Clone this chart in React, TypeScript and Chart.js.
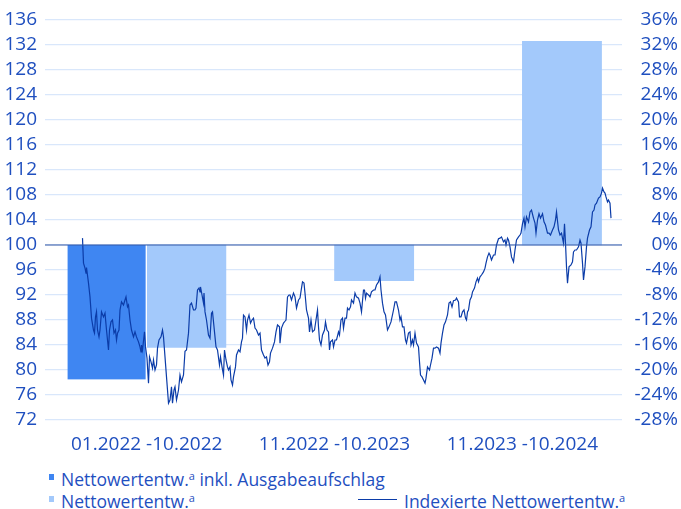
import React, { useEffect, useRef } from 'react';
import { Chart, registerables } from 'chart.js';

Chart.register(...registerables);

const categories = ['01.2022 -10.2022', '11.2022 -10.2023', '11.2023 -10.2024'];
const netInclFee: (number | null)[] = [-21.5, null, null];
const netPerf: number[] = [-16.4, -5.7, 32.6];
const leftTicks = { min: 72, max: 136, step: 4 };
const rightTicks = { min: -28, max: 36, step: 4 };

// [day since start, indexed value]
const indexPoints: [number, number][] = [
  [1, 101.1], [3, 97.1], [6, 96.3], [8, 95.5], [9, 96.4], [13, 93.9], [16, 91.7], [19, 88.3], [23, 86.4], [25, 85.9],
  [27, 88.5], [29, 89.3], [31, 86.4], [34, 85.3], [36, 86.4], [39, 89.3], [43, 88.5], [46, 89.1], [49, 86.4], [53, 83.2],
  [55, 86.4], [58, 87.7], [61, 88.0], [64, 85.9], [67, 86.4], [69, 84.8], [71, 85.9], [74, 86.4], [76, 89.6], [79, 90.9],
  [83, 90.4], [86, 91.2], [88, 91.7], [91, 90.1], [93, 90.4], [96, 88.0], [99, 86.4], [103, 85.3], [106, 86.1], [109, 85.3],
  [113, 84.5], [116, 83.7], [118, 82.9], [119, 84.0], [121, 83.2], [125, 86.1], [127, 83.7], [130, 81.9], [133, 77.9], [135, 82.1],
  [138, 81.3], [141, 80.3], [143, 81.6], [146, 80.0], [149, 80.8], [151, 83.5], [154, 84.8], [158, 85.3], [161, 86.4], [163, 85.3],
  [166, 82.1], [169, 78.9], [171, 76.8], [173, 74.7], [176, 75.2], [179, 77.3], [181, 74.7], [184, 76.8], [186, 77.3], [189, 75.2],
  [193, 76.8], [196, 79.2], [199, 78.1], [203, 79.2], [206, 83.0], [209, 83.2], [213, 85.9], [216, 90.4], [219, 90.7], [223, 89.6],
  [226, 89.6], [228, 89.9], [231, 92.8], [234, 93.1], [236, 92.5], [237, 93.3], [240, 92.0], [243, 90.7], [244, 92.3], [246, 89.3],
  [249, 88.0], [253, 85.6], [256, 85.1], [259, 89.1], [261, 89.3], [265, 86.1], [268, 83.7], [271, 83.2], [275, 80.8], [277, 82.1],
  [280, 80.5], [283, 79.2], [285, 83.2], [288, 81.6], [291, 80.5], [293, 80.0], [296, 80.5], [298, 78.4], [301, 77.6], [303, 78.9],
  [307, 80.5], [309, 82.4], [313, 83.2], [316, 82.9], [319, 84.5], [321, 85.1], [323, 88.8], [326, 88.5], [329, 86.4], [331, 88.0],
  [334, 88.8], [337, 87.5], [340, 88.0], [343, 88.3], [346, 86.7], [349, 86.4], [353, 85.6], [356, 85.9], [359, 83.2], [363, 82.4],
  [366, 81.9], [369, 82.1], [372, 80.8], [375, 81.3], [377, 82.7], [381, 83.5], [385, 84.5], [388, 86.1], [391, 87.2], [395, 86.9],
  [396, 84.3], [399, 86.7], [403, 87.5], [406, 87.8], [408, 88.0], [411, 91.7], [414, 92.0], [416, 92.0], [419, 91.2], [423, 92.3],
  [426, 91.7], [429, 89.9], [433, 91.2], [436, 91.5], [439, 93.1], [441, 94.1], [444, 93.9], [446, 92.3], [449, 89.6], [453, 88.3],
  [455, 86.1], [458, 88.0], [461, 86.1], [465, 86.4], [468, 88.0], [471, 89.6], [473, 86.9], [475, 84.8], [478, 84.0], [481, 85.6],
  [485, 86.4], [487, 87.7], [490, 86.4], [493, 86.1], [495, 83.2], [497, 84.5], [501, 84.8], [503, 83.7], [506, 84.8], [509, 84.8],
  [513, 86.1], [515, 85.6], [518, 88.0], [521, 88.3], [523, 86.7], [526, 88.3], [529, 88.3], [531, 89.9], [534, 89.6], [537, 90.1],
  [539, 91.2], [543, 90.7], [546, 92.3], [549, 91.7], [553, 91.5], [556, 90.7], [559, 89.3], [563, 92.8], [565, 92.8], [567, 91.5],
  [569, 92.3], [573, 92.0], [576, 91.7], [579, 92.5], [583, 92.8], [586, 92.8], [589, 93.6], [593, 94.1], [596, 94.9], [598, 92.8],
  [601, 90.7], [604, 89.3], [607, 88.8], [611, 86.4], [614, 86.9], [618, 87.7], [623, 89.6], [626, 90.9], [629, 90.9], [633, 89.6],
  [636, 88.0], [638, 88.5], [641, 86.9], [644, 86.9], [647, 84.8], [649, 84.3], [653, 85.9], [656, 86.1], [658, 84.0], [661, 84.8],
  [663, 84.0], [666, 85.9], [669, 84.3], [673, 83.7], [675, 81.3], [677, 79.2], [680, 78.9], [683, 78.4], [686, 77.9], [688, 78.7],
  [691, 80.5], [695, 80.0], [697, 80.8], [700, 81.9], [703, 83.5], [706, 83.5], [709, 83.7], [713, 83.5], [716, 82.7], [718, 84.3],
  [721, 85.9], [724, 87.2], [727, 87.7], [731, 88.8], [734, 90.7], [737, 90.9], [740, 90.1], [743, 91.1], [747, 91.2], [749, 91.5],
  [753, 90.9], [755, 88.5], [758, 88.5], [761, 89.3], [764, 89.6], [767, 88.3], [769, 88.0], [771, 89.3], [773, 89.6], [776, 91.2],
  [779, 91.7], [781, 92.5], [783, 92.8], [785, 93.1], [788, 94.1], [791, 94.7], [793, 94.1], [796, 94.9], [799, 95.2], [803, 95.7],
  [806, 96.3], [808, 97.1], [811, 98.1], [814, 98.7], [816, 98.4], [819, 97.6], [823, 98.4], [826, 98.4], [829, 100.0], [833, 101.0],
  [836, 101.1], [839, 101.3], [843, 100.5], [846, 100.8], [848, 100.0], [851, 101.1], [853, 100.8], [856, 99.7], [859, 98.1], [863, 97.3],
  [866, 99.2], [869, 100.8], [873, 101.3], [876, 101.6], [878, 101.9], [881, 103.4], [884, 104.3], [886, 102.9], [889, 104.5], [893, 103.7],
  [896, 105.3], [899, 105.6], [903, 104.3], [906, 103.5], [908, 101.9], [911, 104.0], [914, 105.0], [917, 104.3], [921, 105.0], [924, 103.7],
  [927, 103.2], [931, 101.9], [934, 101.9], [937, 101.6], [941, 102.4], [944, 102.9], [947, 104.0], [949, 105.3], [953, 102.4], [956, 101.6],
  [959, 101.9], [963, 100.3], [965, 103.4], [967, 100.3], [969, 96.5], [971, 93.9], [974, 96.5], [978, 96.8], [981, 97.3], [983, 98.9],
  [986, 99.2], [989, 99.2], [993, 99.7], [996, 100.8], [998, 100.3], [1001, 97.1], [1003, 94.4], [1006, 96.5], [1009, 99.7], [1011, 101.1],
  [1015, 102.4], [1018, 102.9], [1021, 105.3], [1024, 105.6], [1026, 106.4], [1029, 106.7], [1033, 107.5], [1036, 107.7], [1039, 108.3], [1041, 109.1],
  [1044, 108.5], [1046, 108.3], [1048, 107.7], [1051, 106.9], [1053, 107.2], [1056, 106.7], [1058, 104.3],
];
const dayRange = { min: -74, max: 1080 };

const TEXT = '#1f4fbf';
const DARK_BAR = '#3f86f2';
const LIGHT_BAR = '#a3c9fb';
const LINE = '#0b3ca8';
const GRID = '#d9e7fb';
const ZERO = '#3558a6';
const FONT = "'Open Sans', 'Noto Sans', sans-serif";

const zeroLine = {
  id: 'zeroLine',
  afterDatasetsDraw(chart: any) {
    const { ctx, chartArea, scales } = chart;
    const y = scales.yLeft.getPixelForValue(100);
    ctx.save();
    ctx.strokeStyle = ZERO;
    ctx.lineWidth = 1.2;
    ctx.beginPath();
    ctx.moveTo(chartArea.left, y);
    ctx.lineTo(chartArea.right, y);
    ctx.stroke();
    ctx.restore();
  },
};

function ChartCanvas() {
  const ref = useRef<HTMLCanvasElement>(null);
  useEffect(() => {
    if (!ref.current) return;
    const chart = new Chart(ref.current, {
      type: 'bar',
      data: {
        labels: categories,
        datasets: [
          {
            type: 'line',
            label: 'Indexierte Nettowertentw.',
            data: indexPoints.map(([d, v]) => ({ x: d, y: v })),
            xAxisID: 'xLine',
            yAxisID: 'yLeft',
            borderColor: LINE,
            borderWidth: 1.2,
            pointRadius: 0,
            tension: 0,
            order: 0,
          } as any,
          {
            type: 'bar',
            label: 'Nettowertentw. inkl. Ausgabeaufschlag',
            data: netInclFee,
            xAxisID: 'x',
            yAxisID: 'yRight',
            backgroundColor: DARK_BAR,
            borderColor: '#ffffff',
            borderWidth: { top: 0, bottom: 0, left: 0, right: 1.4 },
            borderSkipped: false,
            barThickness: 79.2,
            order: 1,
          },
          {
            type: 'bar',
            label: 'Nettowertentw.',
            data: netPerf,
            xAxisID: 'x',
            yAxisID: 'yRight',
            backgroundColor: LIGHT_BAR,
            barThickness: 79.2,
            order: 1,
          },
        ],
      },
      options: {
        responsive: false,
        animation: false,
        devicePixelRatio: 1,
        layout: { padding: { top: 20, right: 3, left: 0, bottom: 0 } },
        plugins: { legend: { display: false }, tooltip: { enabled: false } },
        scales: {
          x: {
            type: 'category',
            position: 'bottom',
            offset: true,
            grid: { display: false, drawTicks: false },
            border: { display: false },
            ticks: { color: TEXT, font: { family: FONT, size: 19 }, padding: 13, maxRotation: 0, autoSkip: false },
            afterBuildTicks: (scale: any) => {
              scale._startValue = -0.5415;
              scale._valueRange = 3.072;
            },
            afterFit: (scale: any) => {
              scale.height = 40;
            },
          },
          xLine: {
            type: 'linear',
            display: false,
            offset: false,
            min: dayRange.min,
            max: dayRange.max,
          },
          yLeft: {
            type: 'linear',
            position: 'left',
            min: leftTicks.min,
            max: leftTicks.max,
            ticks: { stepSize: leftTicks.step, autoSkip: false, color: TEXT, font: { family: FONT, size: 19 }, padding: 8 },
            grid: { color: GRID, lineWidth: 1.2, drawTicks: false },
            border: { display: false },
            afterFit: (scale: any) => {
              scale.width = 45;
            },
          },
          yRight: {
            type: 'linear',
            position: 'right',
            min: rightTicks.min,
            max: rightTicks.max,
            ticks: {
              stepSize: rightTicks.step,
              autoSkip: false,
              color: TEXT,
              font: { family: FONT, size: 19 },
              padding: 0,
              crossAlign: 'far',
              callback: (v: any) => `${v}%`,
            },
            grid: { display: false, drawTicks: false },
            border: { display: false },
            afterFit: (scale: any) => {
              scale.width = 56;
            },
          },
        },
      },
      plugins: [zeroLine],
    });
    return () => chart.destroy();
  }, []);
  return <canvas ref={ref} width={681} height={460} style={{ display: 'block', width: 681, height: 460 }} />;
}

const legendText: React.CSSProperties = {
  position: 'absolute',
  fontFamily: FONT,
  fontSize: 17.5,
  color: TEXT,
  lineHeight: '22px',
  whiteSpace: 'nowrap',
};

function Sup() {
  return <span style={{ fontSize: 11, verticalAlign: '6px' }}>a</span>;
}

export default function App() {
  return (
    <div style={{ position: 'absolute', left: 0, top: 0, width: 681, height: 509, background: '#fff', overflow: 'hidden' }}>
      <ChartCanvas />
      <div style={{ position: 'absolute', left: 49, top: 474, width: 5, height: 6, background: DARK_BAR }} />
      <div style={{ ...legendText, left: 61, top: 465 }}>
        Nettowertentw.<Sup /> inkl. Ausgabeaufschlag
      </div>
      <div style={{ position: 'absolute', left: 49, top: 496, width: 5, height: 6, background: LIGHT_BAR }} />
      <div style={{ ...legendText, left: 61, top: 487 }}>
        Nettowertentw.<Sup />
      </div>
      <div style={{ position: 'absolute', left: 358, top: 499, width: 39, height: 1, background: LINE }} />
      <div style={{ ...legendText, left: 404, top: 487 }}>
        Indexierte Nettowertentw.<Sup />
      </div>
    </div>
  );
}
